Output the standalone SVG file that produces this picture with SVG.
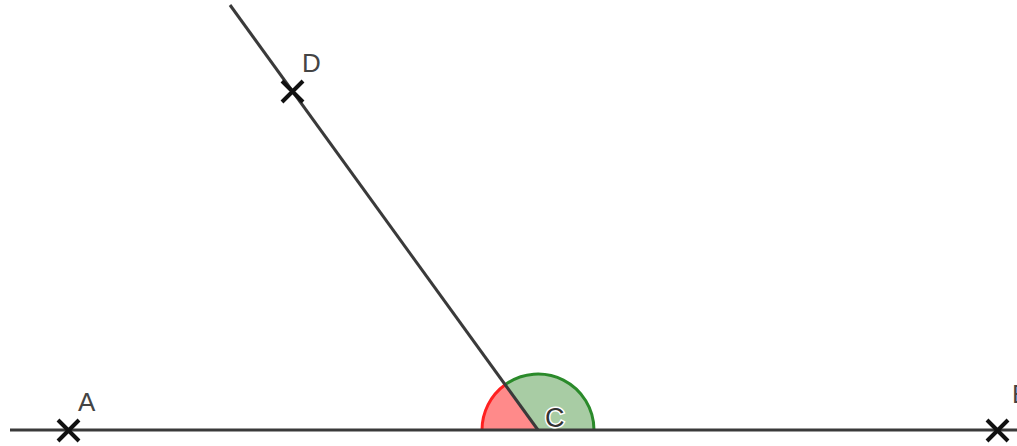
<svg xmlns="http://www.w3.org/2000/svg" width="1017" height="446" viewBox="0 0 1017 446">
<style>
.ln{stroke:#3a3a3a;stroke-width:3;fill:none;stroke-linecap:butt}
.mk{stroke:#111;stroke-width:4;stroke-linecap:butt}
.lb{font-family:"Liberation Sans",Arial,sans-serif;font-size:26px;fill:#444}
.lc{font-family:"Liberation Sans",Arial,sans-serif;font-size:27px;fill:#333;stroke:#fff;stroke-width:3;paint-order:stroke}
</style>
<rect width="1017" height="446" fill="#fff"/>
<g id="angles">
<path d="M538,430 L505.1,384.7 A56,56 0 0 0 482,430 Z" fill="#ff8a8a" stroke="none"/>
<path d="M505.1,384.7 A56,56 0 0 0 482,430" fill="none" stroke="#ff2020" stroke-width="3"/>
<path d="M538,430 L594,430 A56,56 0 0 0 505.1,384.7 Z" fill="#a8cca4" stroke="none"/>
<path d="M594,430 A56,56 0 0 0 505.1,384.7" fill="none" stroke="#2a8a2a" stroke-width="3"/>
</g>
<g id="connectors">
<line class="ln" x1="10" y1="430" x2="1017" y2="430"/>
<line class="ln" x1="538" y1="430" x2="230" y2="5"/>
</g>
<g id="A">
<path class="mk" d="M58,420 L79,441 M58,441 L79,420"/>
<text class="lb" x="78" y="411">A</text>
</g>
<g id="B">
<path class="mk" d="M987,420 L1008,441 M987,441 L1008,420"/>
<text class="lb" x="1012" y="403">B</text>
</g>
<g id="D">
<path class="mk" d="M282,81 L303,102 M282,102 L303,81"/>
<text class="lb" x="302" y="72">D</text>
</g>
<g id="C">
<text class="lc" x="545" y="427">C</text>
</g>
</svg>
